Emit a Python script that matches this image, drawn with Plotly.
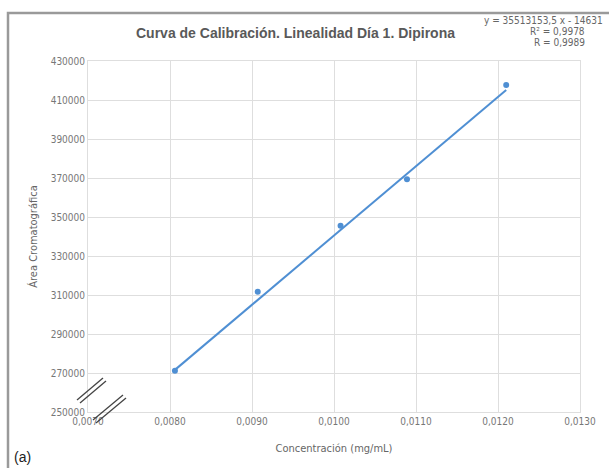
import plotly.graph_objects as go

# Data
conc = [0.00806, 0.00907, 0.01008, 0.01089, 0.01210]
area = [271200, 311700, 345500, 369300, 417700]
slope = 35513153.5
intercept = -14631
eq_lines = ["y = 35513153,5 x - 14631", "R² = 0,9978", "R = 0,9989"]
x_ticks = [0.007, 0.008, 0.009, 0.010, 0.011, 0.012, 0.013]
x_ticklabels = ["0,0070", "0,0080", "0,0090", "0,0100", "0,0110", "0,0120", "0,0130"]
y_ticks = [250000, 270000, 290000, 310000, 330000, 350000, 370000, 390000, 410000, 430000]

trend_x = [min(conc), max(conc)]
trend_y = [slope * v + intercept for v in trend_x]

W, H = 609, 468
ML, MR, MT, MB = 88, 29, 61, 56
PW, PH = W - ML - MR, H - MT - MB

def px(x):
    return (x - ML) / PW

def py(y):
    return (H - MB - y) / PH

blue = "#4f8fd3"
FONT = "DejaVu Sans Condensed, Liberation Sans Narrow, Liberation Sans, Arial"
TFONT = "Liberation Sans, Arial"

fig = go.Figure()
fig.add_trace(go.Scatter(x=trend_x, y=trend_y, mode="lines",
                         line=dict(color=blue, width=2), hoverinfo="skip"))
fig.add_trace(go.Scatter(x=conc, y=area, mode="markers",
                         marker=dict(color=blue, size=6)))

shapes = []
# outer frame (top and left)
shapes.append(dict(type="path", xref="paper", yref="paper",
                   path=f"M {px(8)},{py(H + 5)} L {px(8)},{py(13)} L {px(W + 5)},{py(13)}",
                   line=dict(color="#9a9a9a", width=2.5)))
# axis break marks
for (x0, y0, x1, y1) in [(77, 400, 103, 378), (80, 403, 106, 381),
                         (93, 420, 123, 395), (96, 423, 126, 398)]:
    shapes.append(dict(type="line", xref="paper", yref="paper",
                       x0=px(x0), y0=py(y0), x1=px(x1), y1=py(y1),
                       line=dict(color="#444444", width=1.3)))

annotations = [
    dict(text="<b>Curva de Calibración. Linealidad Día 1. Dipirona</b>",
         xref="paper", yref="paper", x=px(295), y=py(33), showarrow=False,
         xanchor="center", yanchor="middle",
         font=dict(family=TFONT, size=14, color="#595959")),
    dict(text="(a)", xref="paper", yref="paper", x=px(12), y=py(457),
         showarrow=False, xanchor="left", yanchor="middle",
         font=dict(family=TFONT, size=14, color="#222222")),
]
for i, (line, xr) in enumerate(zip(eq_lines, [605, 587, 587])):
    annotations.append(dict(text=line, xref="paper", yref="paper",
                            x=px(xr), y=py(20 + 11.5 * i), showarrow=False,
                            xanchor="right", yanchor="middle",
                            font=dict(family=FONT, size=10, color="#666666")))

fig.update_layout(
    width=W, height=H, autosize=False,
    margin=dict(l=ML, r=MR, t=MT, b=MB),
    paper_bgcolor="white", plot_bgcolor="white",
    showlegend=False,
    shapes=shapes, annotations=annotations,
    xaxis=dict(range=[0.007, 0.013], tickvals=x_ticks, ticktext=x_ticklabels,
               showgrid=True, gridcolor="#dedede", gridwidth=1,
               showline=True, linecolor="#dedede", mirror=True,
               zeroline=False, ticks="", ticklen=0,
               tickfont=dict(family=FONT, size=10, color="#777777"),
               title=dict(text="Concentración (mg/mL)", standoff=18,
                          font=dict(family=FONT, size=11, color="#666666"))),
    yaxis=dict(range=[250000, 430000], tickvals=y_ticks,
               ticktext=[str(v) for v in y_ticks],
               showgrid=True, gridcolor="#dedede", gridwidth=1,
               showline=True, linecolor="#dedede", mirror=True,
               zeroline=False, ticks="", ticklen=0,
               tickfont=dict(family=FONT, size=10, color="#777777"),
               title=dict(text="Área Cromatográfica", standoff=10,
                          font=dict(family=FONT, size=11, color="#666666"))),
)

fig.write_html("out.html")
